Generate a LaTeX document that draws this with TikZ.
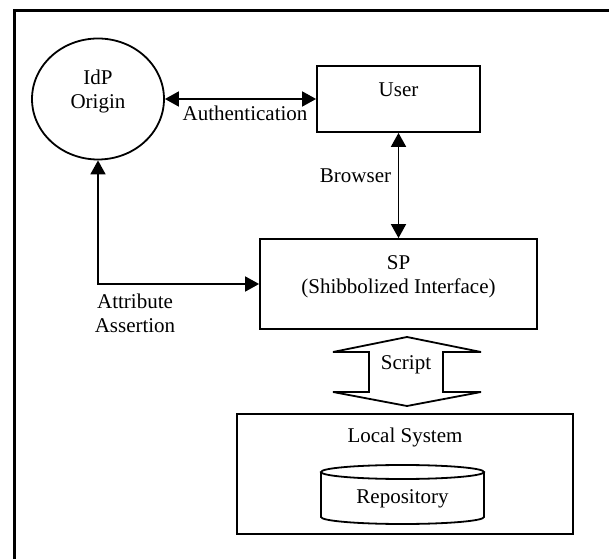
\documentclass[tikz,border=0pt]{standalone}
\usepackage{fontspec}
\setmainfont{Liberation Serif}
\usetikzlibrary{arrows.meta,shapes.geometric,positioning}
\begin{document}
\begin{tikzpicture}[x=1pt,y=1pt,
    every node/.style={font=\fontsize{21}{24}\selectfont},
    box/.style={draw,line width=1.8pt,inner sep=0pt},
    lbl/.style={inner sep=0pt,align=center},
    link/.style={line width=1.8pt,{Triangle[length=14pt,width=15pt]}-{Triangle[length=14pt,width=15pt]}}]
    \useasboundingbox (0,0) rectangle (609,559);
    %draw frame
    \draw[line width=3pt] (14,0) -- (14,548) -- (609,548);
    %draw boxes
    \node[box,ellipse,minimum width=132pt,minimum height=121pt] (idp) at (98,460) {};
    \node[box,rectangle,minimum width=163pt,minimum height=66pt] (user) at (398.5,460) {};
    \node[box,rectangle,minimum width=277pt,minimum height=90pt] (sp) at (398.5,275) {};
    \node[box,rectangle,minimum width=336pt,minimum height=120pt] (local) at (405,85) {};
    %draw repository
    \draw[line width=1.8pt] (321,87) -- (321,42) arc[start angle=180,end angle=360,x radius=81.5,y radius=7] -- (484,87);
    \draw[line width=1.8pt] (402.5,87) ellipse [x radius=81.5,y radius=7];
    %draw script arrow
    \draw[line width=1.8pt] (407,222) -- (481,207) -- (443,207) -- (443,167) -- (481,167) -- (407,153)
        -- (333,167) -- (369,167) -- (369,207) -- (333,207) -- cycle;
    %draw texts
    \node[lbl] (idptext) at (98,467.3) {IdP\\Origin};
    \node[lbl,anchor=base] (usertext) at (398.5,462) {User};
    \node[lbl] (sptext) at (398.5,282.6) {SP\\(Shibbolized Interface)};
    \node[lbl,anchor=base] (localtext) at (405,117) {Local System};
    \node[lbl,anchor=base] (repo) at (402.5,56) {Repository};
    \node[lbl,anchor=base] (script) at (406,189) {Script};
    %draw links
    \draw[link] (idp.east) -- (user.west);
    \draw[link] (user.south) -- (sp.north);
    \draw[link] (idp.south) |- (sp.west);
    \node[lbl,anchor=base] (auth) at (245,438) {Authentication};
    \node[lbl,anchor=base] (browser) at (355.5,376) {Browser};
    \node[lbl] (attr) at (135,246) {Attribute\\Assertion};
\end{tikzpicture}
\end{document}
